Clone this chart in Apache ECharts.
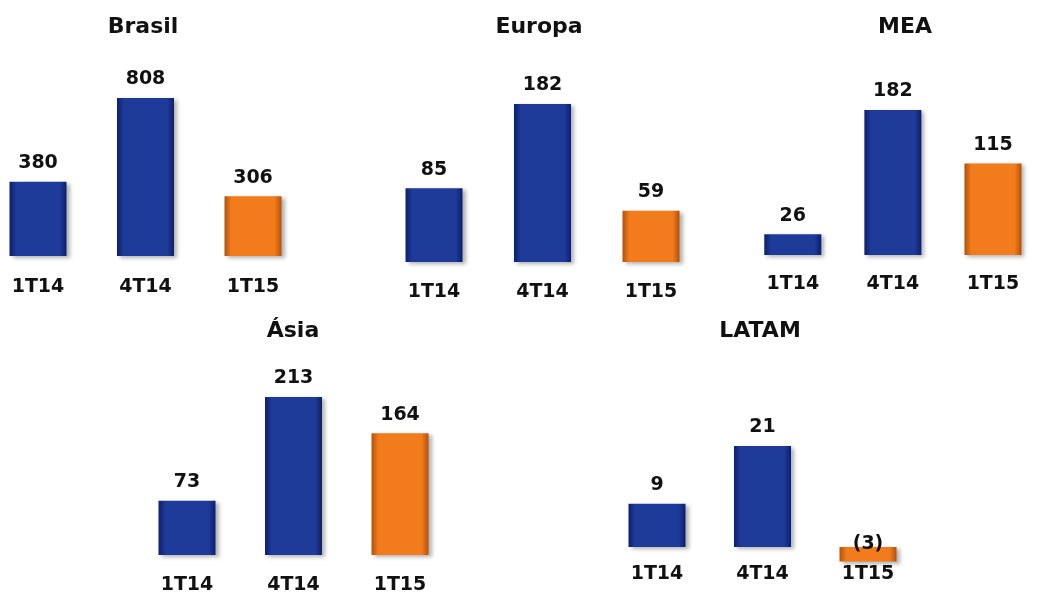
<!DOCTYPE html>
<html>
<head>
<meta charset="utf-8">
<style>
  html, body { margin: 0; padding: 0; background: #fff; }
  #chart { width: 1043px; height: 595px; }
</style>
<script src="https://cdn.jsdelivr.net/npm/echarts@6/dist/echarts.min.js"></script>
</head>
<body>
<div id="chart"></div>
<script>
const categories = ['1T14', '4T14', '1T15']

const regions = ['Brasil', 'Europa', 'MEA', 'Ásia', 'LATAM']

const brasil = [380, 808, 306]
const europa = [85, 182, 59]
const mea = [26, 182, 115]
const asia = [73, 213, 164]
const latam = [9, 21, -3]

const values = [brasil, europa, mea, asia, latam]

// layout of each small chart: x of first bar centre, step between bars,
// top of tallest bar, bottom of the plot, title centre, label margin
const boxes = [
  { c0: 38, step: 107.5, top: 98, bottom: 256, title: 138, titleTop: 11, margin: 22 },
  { c0: 434, step: 108.5, top: 104, bottom: 262, title: 534, titleTop: 11, margin: 21 },
  { c0: 797, step: 108.5, top: 110, bottom: 255, title: 900, titleTop: 11, margin: 20 },
  { c0: 187, step: 106.5, top: 397, bottom: 559, title: 288, titleTop: 315, margin: 21 },
  { c0: 657, step: 105.5, top: 446, bottom: 561.5, title: 755, titleTop: 315, margin: 3 },
]

const font = 'DejaVu Sans'

function gridOf(b) {
  const left = Math.max(0, b.c0 - b.step / 2)
  const width = b.c0 + 2.5 * b.step - left
  return {
    left,
    width,
    top: b.top,
    height: b.bottom - b.top,
    xmin: (left - b.c0) / b.step,
    xmax: (left - b.c0 + width) / b.step,
  }
}

const grids = boxes.map(gridOf)

function barColor(i) {
  const orange = i === 2
  const edge = orange ? '#b2520a' : '#0c1f6c'
  const mid = orange ? '#f27b1b' : '#1f3b9a'
  return {
    type: 'linear', x: 0, y: 0, x2: 1, y2: 0,
    colorStops: [
      { offset: 0, color: edge },
      { offset: 0.12, color: mid },
      { offset: 0.88, color: mid },
      { offset: 1, color: edge },
    ],
  }
}

const chart = echarts.init(document.getElementById('chart'))

chart.setOption({
  animation: false,
  title: regions.map((name, k) => ({
    text: name,
    left: boxes[k].title,
    top: boxes[k].titleTop,
    textAlign: 'center',
    textStyle: { fontFamily: font, fontWeight: 'bold', fontSize: 22, color: '#111' },
  })),
  grid: grids.map(g => ({ left: g.left, width: g.width, top: g.top, height: g.height })),
  xAxis: grids.map((g, k) => ({
    type: 'value',
    gridIndex: k,
    min: g.xmin,
    max: g.xmax,
    splitLine: { show: false },
    axisLine: { show: false, onZero: false },
    axisTick: { show: false },
    axisLabel: {
      customValues: [0, 1, 2],
      formatter: v => categories[v],
      margin: boxes[k].margin,
      fontFamily: font,
      fontWeight: 'bold',
      fontSize: 19,
      color: '#111',
    },
  })),
  yAxis: values.map((v, k) => ({
    type: 'value',
    gridIndex: k,
    min: Math.min(0, ...v),
    max: Math.max(...v),
    show: false,
    splitLine: { show: false },
  })),
  series: values.map((v, k) => ({
    type: 'bar',
    xAxisIndex: k,
    yAxisIndex: k,
    barWidth: 57,
    data: v.map((y, i) => ({
      value: [i, y],
      itemStyle: {
        color: barColor(i),
        shadowColor: 'rgba(0,0,0,0.3)',
        shadowBlur: 4,
        shadowOffsetX: 3,
        shadowOffsetY: 2,
      },
      label: y < 0 ? { position: 'insideTop', offset: [0, -22] } : undefined,
    })),
    label: {
      show: true,
      position: 'top',
      distance: 9,
      fontFamily: font,
      fontWeight: 'bold',
      fontSize: 19,
      color: '#111',
      formatter: p => (p.value[1] < 0 ? '(' + -p.value[1] + ')' : String(p.value[1])),
    },
  })),
})
</script>
</body>
</html>
